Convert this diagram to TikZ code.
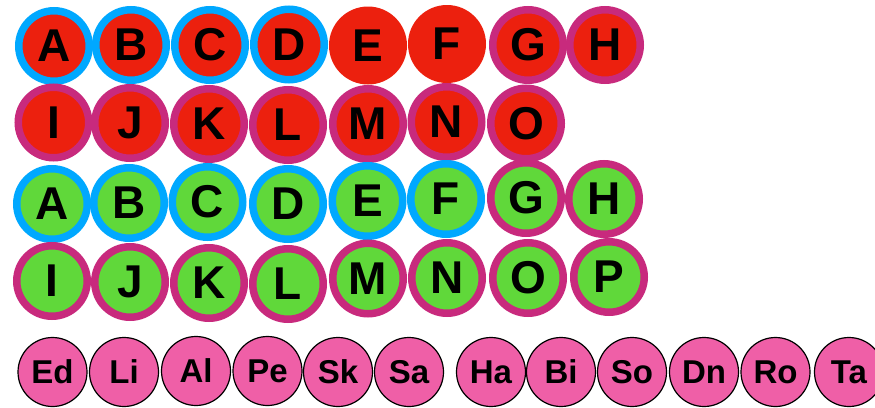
\documentclass[tikz,border=0pt]{standalone}
\usepackage{fontspec}
\setmainfont{Liberation Sans}
\definecolor{cred}{RGB}{236,32,14}
\definecolor{cblue}{RGB}{0,168,255}
\definecolor{cmag}{RGB}{200,42,125}
\definecolor{cgreen}{RGB}{96,216,58}
\definecolor{cpink}{RGB}{239,95,167}
\tikzset{
  ringbase/.style={circle, line width=7.5pt, minimum size=70.5pt, inner sep=0pt, font=\fontsize{46}{46}\selectfont\bfseries},
  redblue/.style={ringbase, fill=cred, draw=cblue},
  redmag/.style={ringbase, fill=cred, draw=cmag},
  redplain/.style={ringbase, fill=cred, draw=none, minimum size=78pt},
  greenblue/.style={ringbase, fill=cgreen, draw=cblue},
  greenmag/.style={ringbase, fill=cgreen, draw=cmag},
  pinkbox/.style={circle, fill=cpink, draw=black, line width=1.2pt, minimum size=69pt, inner sep=0pt, font=\fontsize{33}{33}\selectfont\bfseries}
}
\begin{document}
\begin{tikzpicture}[x=1pt,y=-1pt]
\useasboundingbox (0,0) rectangle (875,407);
% row 1
\node[redblue] (r1a) at (54,46) {A};
\node[redblue] (r1b) at (131,45) {B};
\node[redblue] (r1c) at (210,45) {C};
\node[redblue] (r1d) at (289,44.5) {D};
\node[redplain] (r1e) at (368,45.5) {E};
\node[redplain] (r1f) at (447,44) {F};
\node[redmag] (r1g) at (528,45) {G};
\node[redmag] (r1h) at (605,45) {H};
% row 2
\node[redmag] (r2i) at (53.5,122.5) {I};
\node[redmag] (r2j) at (130,123) {J};
\node[redmag] (r2k) at (209,124) {K};
\node[redmag] (r2l) at (288,125) {L};
\node[redmag] (r2m) at (368,124) {M};
\node[redmag] (r2n) at (446.5,122) {N};
\node[redmag] (r2o) at (526,123.5) {O};
% row 3
\node[greenblue] (g1a) at (52,204) {A};
\node[greenblue] (g1b) at (129,203) {B};
\node[greenblue] (g1c) at (207.5,202) {C};
\node[greenblue] (g1d) at (288,204) {D};
\node[greenblue] (g1e) at (367.5,201) {E};
\node[greenblue] (g1f) at (446,199) {F};
\node[greenmag] (g1g) at (526,198) {G};
\node[greenmag] (g1h) at (604,199) {H};
% row 4
\node[greenmag] (g2i) at (52,281) {I};
\node[greenmag] (g2j) at (130,282) {J};
\node[greenmag] (g2k) at (209,283) {K};
\node[greenmag] (g2l) at (288,284) {L};
\node[greenmag] (g2m) at (368,278.5) {M};
\node[greenmag] (g2n) at (447,278) {N};
\node[greenmag] (g2o) at (528,278) {O};
\node[greenmag] (g2p) at (609,277) {P};
% bottom row
\node[pinkbox] (ed) at (52.5,372) {Ed};
\node[pinkbox] (li) at (124,372) {Li};
\node[pinkbox] (al) at (196,371) {Al};
\node[pinkbox] (pe) at (267.5,371) {Pe};
\node[pinkbox] (sk) at (338,372) {Sk};
\node[pinkbox] (sa) at (409,372) {Sa};
\node[pinkbox] (ha) at (491,372) {Ha};
\node[pinkbox] (bi) at (561,372) {Bi};
\node[pinkbox] (so) at (632,372) {So};
\node[pinkbox] (dn) at (704,372) {Dn};
\node[pinkbox] (ro) at (775.5,372) {Ro};
\node[pinkbox] (ta) at (849,372) {Ta};
\end{tikzpicture}
\end{document}
